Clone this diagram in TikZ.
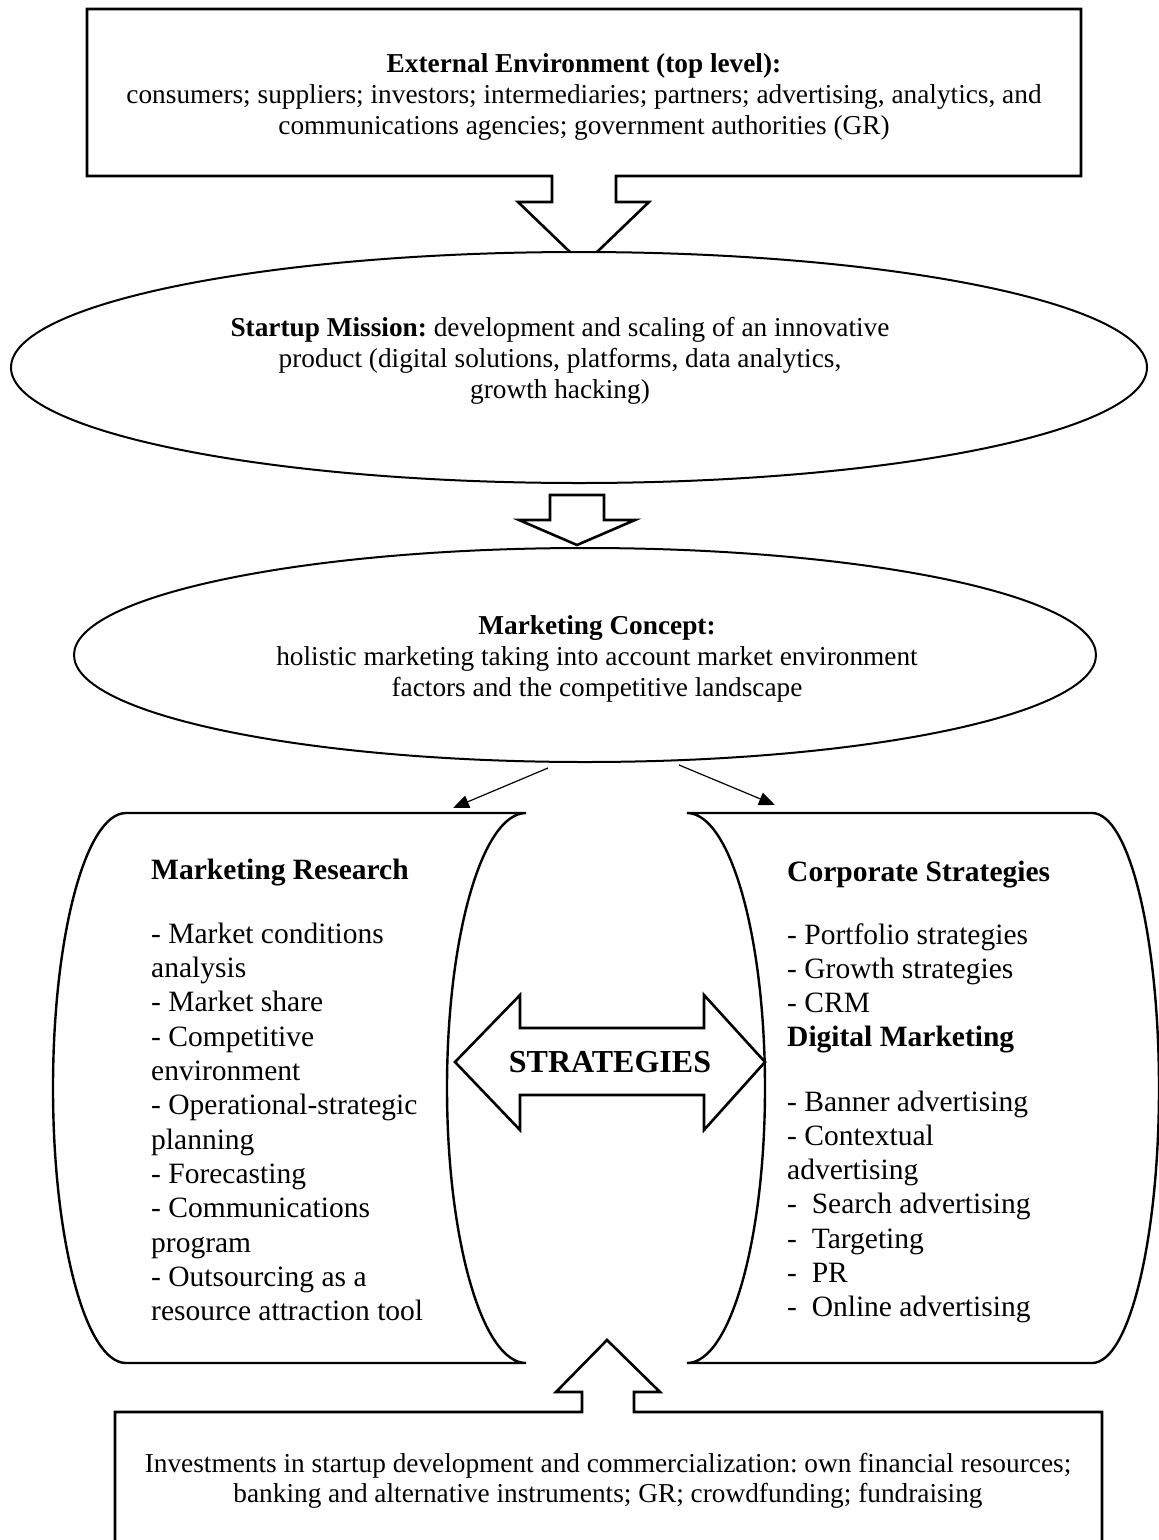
\documentclass[tikz,border=0pt]{standalone}
\usepackage{fontspec}
\setmainfont{Liberation Serif}
\frenchspacing
\usetikzlibrary{shapes.geometric,arrows.meta}
\begin{document}
\begin{tikzpicture}[x=1pt,y=-1pt,
  outline/.style={draw=black, line width=2.6pt, line join=miter},
  oval/.style={ellipse, draw=black, line width=2pt, fill=white, inner sep=0pt},
  scroll/.style={draw=black, line width=2.4pt},
  body/.style={inner sep=0pt, anchor=base, font=\fontsize{27.3}{31}\selectfont},
  item/.style={inner sep=0pt, anchor=base west, font=\fontsize{29.5}{34}\selectfont},
  itemhead/.style={inner sep=0pt, anchor=base west, font=\bfseries\fontsize{29.5}{34}\selectfont},
  link/.style={line width=1.2pt, -{Triangle[length=16pt,width=13pt]}}]
\useasboundingbox (0,0) rectangle (1159,1540);

% external environment frame with its downward block arrow
\draw[outline] (87,9) -- (1081,9) -- (1081,176) -- (616,176) -- (616,202) -- (649,202)
  -- (583.5,265) -- (518,202) -- (552,202) -- (552,176) -- (87,176) -- cycle;
\node[body] (env1) at (584,72) {\bfseries External Environment (top level):};
\node[body] (env2) at (584,103) {consumers; suppliers; investors; intermediaries; partners; advertising, analytics, and};
\node[body] (env3) at (584,134) {communications agencies; government authorities (GR)};

% startup mission
\node[oval, minimum width=1136pt, minimum height=231pt] (mission) at (579,367.5) {};
\node[body] (mis1) at (560,336) {\textbf{Startup Mission:} development and scaling of an innovative};
\node[body] (mis2) at (560,367) {product (digital solutions, platforms, data analytics,};
\node[body] (mis3) at (560,398) {growth hacking)};

% block arrow between the ovals
\draw[outline] (550,495) -- (604,495) -- (604,520) -- (635,520) -- (577,545)
  -- (519,520) -- (550,520) -- cycle;

% marketing concept
\node[oval, minimum width=1022pt, minimum height=214pt] (concept) at (585,655) {};
\node[body] (con1) at (597,634) {\bfseries Marketing Concept:};
\node[body] (con2) at (597,665) {holistic marketing taking into account market environment};
\node[body] (con3) at (597,696) {factors and the competitive landscape};

% thin arrows towards the two blocks
\coordinate (lfrom) at (548,768);
\coordinate (lto) at (453,808);
\coordinate (rfrom) at (679,765);
\coordinate (rto) at (775,805);
\draw[link] (lfrom) -- (lto);
\draw[link] (rfrom) -- (rto);

% left scroll: marketing research
\draw[scroll] (126,813) -- (526,813)
  arc[start angle=90, end angle=270, x radius=79pt, y radius=275pt]
  -- (126,1363)
  arc[start angle=270, end angle=90, x radius=73pt, y radius=275pt] -- cycle;

% right scroll: corporate strategies and digital marketing
\draw[scroll] (687,813) -- (1092,813)
  arc[start angle=90, end angle=-90, x radius=67pt, y radius=275pt]
  -- (687,1363)
  arc[start angle=-90, end angle=90, x radius=78pt, y radius=275pt] -- cycle;

\node[itemhead] (mrh) at (151,879) {Marketing Research};
\foreach \yy/\tt [count=\i] in {
  943/{- Market conditions}, 977/{analysis}, 1011/{- Market share},
  1046/{- Competitive}, 1080/{environment}, 1114/{- Operational-strategic},
  1149/{planning}, 1183/{- Forecasting}, 1217/{- Communications},
  1252/{program}, 1286/{- Outsourcing as a}, 1320/{resource attraction tool}}
  \node[item] (mr\i) at (151,\yy) {\tt};

\node[itemhead] (csh) at (787,881) {Corporate Strategies};
\foreach \yy/\tt [count=\i] in {
  944/{- Portfolio strategies}, 978/{- Growth strategies}, 1012/{- CRM}}
  \node[item] (cs\i) at (787,\yy) {\tt};
\node[itemhead] (dmh) at (787,1046) {Digital Marketing};
\foreach \yy/\tt [count=\i] in {
  1111/{- Banner advertising}, 1145/{- Contextual}, 1179/{advertising},
  1213/{-~~Search advertising}, 1248/{-~~Targeting}, 1282/{-~~PR},
  1316/{-~~Online advertising}}
  \node[item] (dm\i) at (787,\yy) {\tt};

% two-headed block arrow
\draw[outline] (455,1062) -- (520,995) -- (520,1028) -- (704,1028) -- (704,995)
  -- (765,1062) -- (704,1130) -- (704,1095) -- (520,1095) -- (520,1130) -- cycle;
\node[inner sep=0pt, anchor=base, font=\bfseries\fontsize{32}{36}\selectfont] (strat) at (610,1072) {STRATEGIES};

% investments frame with its upward block arrow
\draw[outline] (115,1560) -- (115,1412) -- (582,1412) -- (582,1392) -- (556,1392)
  -- (607,1340) -- (660,1392) -- (634,1392) -- (634,1412) -- (1102,1412) -- (1102,1560);
\node[body] (inv1) at (608,1472) {Investments in startup development and commercialization: own financial resources;};
\node[body] (inv2) at (608,1502) {banking and alternative instruments; GR; crowdfunding; fundraising};
\end{tikzpicture}
\end{document}
